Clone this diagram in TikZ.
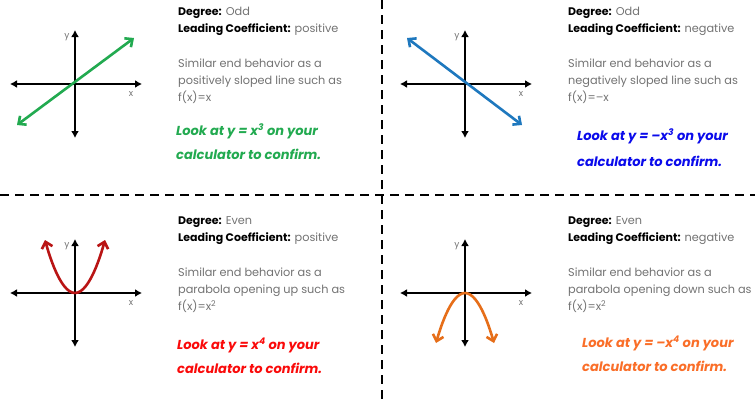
\documentclass[tikz,border=0pt]{standalone}
\usepackage{fontspec}
\setmainfont{Poppins}[WordSpace=0.65]
\newfontfamily\handfont{Poppins}[Ligatures=TeX]
\usetikzlibrary{arrows.meta}

\definecolor{textgray}{RGB}{115,115,115}
\definecolor{linegreen}{RGB}{34,170,80}
\definecolor{lineblue}{RGB}{30,120,190}
\definecolor{textblue}{RGB}{10,10,235}
\definecolor{linered}{RGB}{185,20,20}
\definecolor{textred}{RGB}{250,10,10}
\definecolor{lineorange}{RGB}{230,110,25}
\definecolor{textorange}{RGB}{250,110,40}

\newcommand\keyword[1]{\textcolor{black}{\fontsize{11}{12}\selectfont\textbf{#1}}}

\tikzset{
  axis/.style={line width=2.6pt,{Latex[length=7pt,width=8pt]}-{Latex[length=7pt,width=8pt]}},
  graph/.style={line width=2.6pt,line cap=round,
    {Straight Barb[length=6pt,width=11pt]}-{Straight Barb[length=6pt,width=11pt]}},
  axlabel/.style={text=textgray,font=\fontsize{9}{9}\selectfont,inner sep=0pt},
  info/.style={text=textgray,font=\fontsize{11.3}{12}\selectfont,anchor=base west,inner sep=0pt},
  hint/.style={font=\handfont\bfseries\itshape\fontsize{13}{13}\selectfont,anchor=base west,inner sep=0pt},
  divider/.style={line width=2.2pt,dash pattern=on 9pt off 6pt}
}

\begin{document}
\begin{tikzpicture}[x=1pt,y=-1pt]
  \useasboundingbox[fill=white] (0,0) rectangle (755,399);

  % dashed separators
  \coordinate (leftend) at (0,195);
  \coordinate (rightend) at (755,195);
  \coordinate (topend) at (382,0);
  \coordinate (bottomend) at (382,399);
  \draw[divider] (leftend) -- (rightend);
  \draw[divider] (topend) -- (bottomend);

  % the four pairs of axes
  \foreach \q/\dx/\dy in {1/0/0,2/390/0,3/0/209,4/390/209}{
    \begin{scope}[shift={(\dx,\dy)}]
      \coordinate (west\q) at (10,84);
      \coordinate (east\q) at (142,84);
      \coordinate (north\q) at (75,30);
      \coordinate (south\q) at (75,138);
      \coordinate (origin\q) at (75,84);
      \draw[axis] (west\q) -- (east\q);
      \draw[axis] (north\q) -- (south\q);
      \node[axlabel] (ylab\q) at (67,37) {y};
      \node[axlabel] (xlab\q) at (131,94) {x};
    \end{scope}
  }

  % end behaviour sketches
  \coordinate (greenlow) at (17,125);
  \coordinate (greenhigh) at (134,38);
  \draw[graph,linegreen] (greenlow) -- (greenhigh);

  \coordinate (bluehigh) at (407,38);
  \coordinate (bluelow) at (522,125);
  \draw[graph,lineblue] (bluehigh) -- (bluelow);

  \coordinate (redleft) at (45,240);
  \coordinate (redright) at (105,240);
  \draw[graph,linered] (redleft) parabola bend (origin3) (redright);

  \coordinate (orangeleft) at (436,343);
  \coordinate (orangeright) at (494,343);
  \draw[graph,lineorange] (orangeleft) parabola bend (origin4) (orangeright);

  % descriptions
  \foreach \q/\dx/\dy/\deg/\sign/\lineA/\lineB/\fx in {
      1/0/0/Odd/positive/Similar end behavior as a/positively sloped line such as/f(x)=x,
      2/390/0/Odd/negative/Similar end behavior as a/negatively sloped line such as/f(x)=--x,
      3/0/209/Even/positive/Similar end behavior as a/parabola opening up such as/f(x)=x\textsuperscript{2},
      4/390/209/Even/negative/Similar end behavior as a/parabola opening down such as/f(x)=x\textsuperscript{2}}{
    \begin{scope}[shift={(\dx,\dy)}]
      \node[info] (degree\q) at (178,15) {\keyword{Degree:} \deg};
      \node[info] (coeff\q) at (178,32) {\keyword{Leading Coefficient:} \sign};
      \node[info] (simA\q) at (178,67) {\lineA};
      \node[info] (simB\q) at (178,84) {\lineB};
      \node[info] (func\q) at (178,101) {\fx};
    \end{scope}
  }

  \node[hint,text=linegreen] (lookA) at (176,135) {Look at y = x\textsuperscript{3} on your};
  \node[hint,text=linegreen] (calcA) at (176,159) {calculator to confirm.};
  \node[hint,text=textblue] (lookB) at (577,140) {Look at y = --x\textsuperscript{3} on your};
  \node[hint,text=textblue] (calcB) at (577,166) {calculator to confirm.};
  \node[hint,text=textred] (lookC) at (177,349) {Look at y = x\textsuperscript{4} on your};
  \node[hint,text=textred] (calcC) at (177,373) {calculator to confirm.};
  \node[hint,text=textorange] (lookD) at (582,347) {Look at y = --x\textsuperscript{4} on your};
  \node[hint,text=textorange] (calcD) at (582,371) {calculator to confirm.};
\end{tikzpicture}
\end{document}
